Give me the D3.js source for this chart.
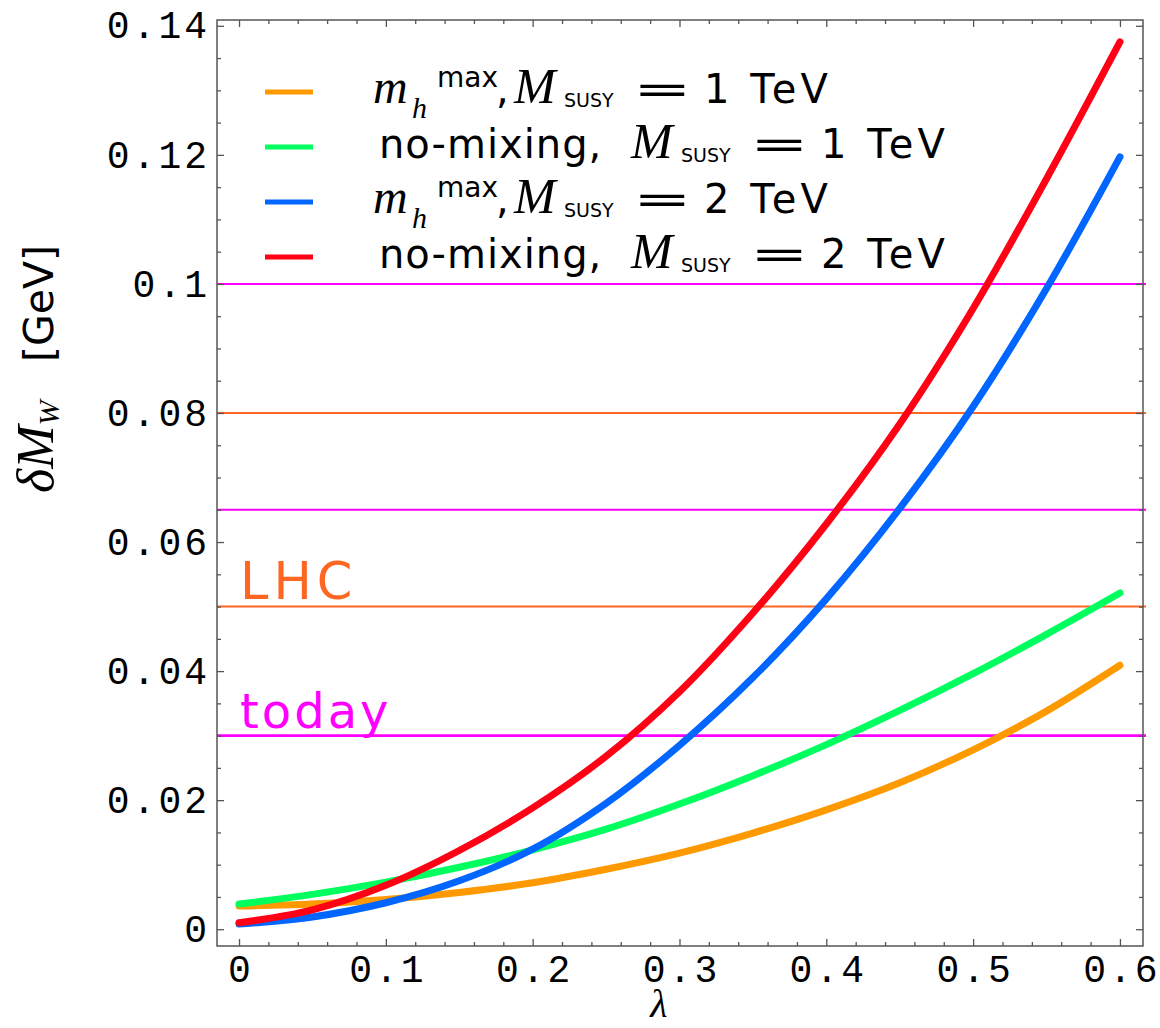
<!DOCTYPE html>
<html>
<head>
<meta charset="utf-8">
<script src="https://cdn.jsdelivr.net/npm/d3@7"></script>
<style>
  body { margin: 0; background: #fff; }
</style>
</head>
<body>
<svg id="chart" width="1160" height="1028"></svg>
<script>
var lambda = [0, 0.05, 0.1, 0.15, 0.2, 0.25, 0.3, 0.35, 0.4, 0.45, 0.5, 0.55, 0.6];

// delta M_W [GeV] for the four scenarios
var mhmax1 = [0.0036, 0.0039, 0.0046, 0.0057, 0.0072, 0.0093, 0.0118, 0.0149, 0.0185, 0.0227, 0.0278, 0.0338, 0.0409];
var nomix1 = [0.0039, 0.0054, 0.0073, 0.0096, 0.0123, 0.0155, 0.0194, 0.0238, 0.0286, 0.0339, 0.0396, 0.0457, 0.0521];
var mhmax2 = [0.0008, 0.0019, 0.0041, 0.0075, 0.0124, 0.0195, 0.0285, 0.0390, 0.0512, 0.0652, 0.0810, 0.0993, 0.1197];
var nomix2 = [0.0010, 0.0030, 0.0068, 0.0122, 0.0188, 0.0268, 0.0368, 0.0490, 0.0628, 0.0783, 0.0962, 0.1163, 0.1375];

// legend: scenario and SUSY mass
var scenarios = ["mhmax", "nomix", "mhmax", "nomix"];
var susyMass = ["1", "1", "2", "2"];

// experimental precision levels
var refLevels = [0.1, 0.08, 0.065, 0.05, 0.03];
var refLabels = ["", "", "", "LHC", "today"];

// tick labels
var xTicks = [0, 0.1, 0.2, 0.3, 0.4, 0.5, 0.6];
var yTicks = [0, 0.02, 0.04, 0.06, 0.08, 0.1, 0.12, 0.14];

var series = [mhmax1, nomix1, mhmax2, nomix2];
var colors = ["#ff9900", "#00ff5f", "#0066ff", "#ff0014"];
var refColors = ["#ff00ff", "#ff6622", "#ff00ff", "#ff6622", "#ff00ff"];

var svg = d3.select("#chart"),
    frame = {left: 217, right: 1143, top: 20, bottom: 946};

var x = d3.scaleLinear().domain([-0.015, 0.6157]).range([frame.left, frame.right]);
var y = d3.scaleLinear().domain([-0.0026, 0.1409]).range([frame.bottom, frame.top]);

var fmt = function(d) { return String(+d.toFixed(3)); };
var xMinor = d3.range(0, 0.6001, 0.02).filter(function(d) { return Math.abs(d * 10 - Math.round(d * 10)) > 1e-6; });
var yMinor = d3.range(0, 0.1401, 0.005).filter(function(d) { return Math.abs(d * 50 - Math.round(d * 50)) > 1e-6; });

var mono = "'Liberation Mono', 'DejaVu Sans Mono', monospace",
    sans = "'DejaVu Sans', sans-serif",
    serif = "'Liberation Serif', 'DejaVu Serif', serif";

// reference lines (drawn first, under the curves)
svg.append("g").selectAll("line")
  .data(refLevels)
  .enter().append("line")
    .attr("x1", frame.left)
    .attr("x2", frame.right + 3)
    .attr("y1", function(d) { return y(d); })
    .attr("y2", function(d) { return y(d); })
    .attr("stroke", function(d, i) { return refColors[i]; })
    .attr("stroke-width", function(d) { return d === 0.03 ? 2.6 : 2; });

svg.append("g").selectAll("text")
  .data(refLevels)
  .enter().append("text")
    .filter(function(d, i) { return refLabels[i] !== ""; })
    .attr("x", frame.left + 23)
    .attr("y", function(d) { return y(d) - 8; })
    .attr("fill", function(d) { return refColors[refLevels.indexOf(d)]; })
    .attr("font-family", sans)
    .attr("font-size", function(d) { return d === 0.05 ? 51 : 48; })
    .attr("letter-spacing", function(d) { return d === 0.05 ? 5 : 3; })
    .text(function(d) { return refLabels[refLevels.indexOf(d)]; });

// curves
var line = d3.line()
  .x(function(d, i) { return x(lambda[i]); })
  .y(function(d) { return y(d); })
  .curve(d3.curveCatmullRom.alpha(0.5));

svg.append("g").selectAll("path")
  .data(series)
  .enter().append("path")
    .attr("d", line)
    .attr("fill", "none")
    .attr("stroke", function(d, i) { return colors[i]; })
    .attr("stroke-width", 7)
    .attr("stroke-linecap", "round")
    .attr("stroke-linejoin", "round");

// axes with inward ticks on all four sides
function styleAxis(g) {
  g.select(".domain").remove();
  g.selectAll(".tick line").attr("stroke", "#555").attr("stroke-width", 1.3);
  g.selectAll("text").attr("fill", "#000").attr("font-family", mono)
    .attr("font-size", 38).attr("letter-spacing", 3);
}

svg.append("g").attr("transform", "translate(0," + frame.bottom + ")")
  .call(d3.axisBottom(x).tickValues(xTicks).tickFormat(fmt).tickSize(-7).tickPadding(9))
  .call(styleAxis)
  .selectAll("text").attr("dx", 1.5);
svg.append("g").attr("transform", "translate(0," + frame.bottom + ")")
  .call(d3.axisBottom(x).tickValues(xMinor).tickFormat("").tickSize(-4))
  .call(styleAxis);
svg.append("g").attr("transform", "translate(0," + frame.top + ")")
  .call(d3.axisTop(x).tickValues(xTicks).tickFormat("").tickSize(-7))
  .call(styleAxis);
svg.append("g").attr("transform", "translate(0," + frame.top + ")")
  .call(d3.axisTop(x).tickValues(xMinor).tickFormat("").tickSize(-4))
  .call(styleAxis);

svg.append("g").attr("transform", "translate(" + frame.left + ",0)")
  .call(d3.axisLeft(y).tickValues(yTicks).tickFormat(fmt).tickSize(-7).tickPadding(7))
  .call(styleAxis);
svg.append("g").attr("transform", "translate(" + frame.left + ",0)")
  .call(d3.axisLeft(y).tickValues(yMinor).tickFormat("").tickSize(-4))
  .call(styleAxis);
svg.append("g").attr("transform", "translate(" + frame.right + ",0)")
  .call(d3.axisRight(y).tickValues(yTicks).tickFormat("").tickSize(-7))
  .call(styleAxis);
svg.append("g").attr("transform", "translate(" + frame.right + ",0)")
  .call(d3.axisRight(y).tickValues(yMinor).tickFormat("").tickSize(-4))
  .call(styleAxis);

svg.append("rect")
  .attr("x", frame.left).attr("y", frame.top)
  .attr("width", frame.right - frame.left).attr("height", frame.bottom - frame.top)
  .attr("fill", "none").attr("stroke", "#555").attr("stroke-width", 1.5);

// axis titles
svg.append("text")
  .attr("x", 659).attr("y", 1017)
  .attr("text-anchor", "middle")
  .attr("font-family", serif).attr("font-style", "italic").attr("font-size", 40)
  .text("λ");

var yt = svg.append("text")
  .attr("transform", "translate(53,493) rotate(-90)")
  .attr("font-size", 52);
yt.append("tspan").attr("font-family", serif).attr("font-style", "italic").text("δM");
yt.append("tspan").attr("font-family", serif).attr("font-style", "italic").attr("font-size", 30).attr("dy", 6).text("W");
yt.append("tspan").attr("font-family", sans).attr("font-size", 41).attr("x", 131).attr("dy", -6).text("[GeV]");

// legend
var rowY = [103, 158, 213, 268];
var legend = svg.append("g").selectAll("g")
  .data(scenarios)
  .enter().append("g")
    .attr("transform", function(d, i) { return "translate(0," + rowY[i] + ")"; });

legend.append("line")
  .attr("x1", 265).attr("x2", 313)
  .attr("y1", -11).attr("y2", -11)
  .attr("stroke", function(d, i) { return colors[i]; })
  .attr("stroke-width", 5);

legend.each(function(d, i) {
  var row = d3.select(this);
  var mx = d === "mhmax" ? 514 : 631;      // start of M_SUSY
  var t = row.append("text").attr("font-family", sans).attr("font-size", 40);
  if (d === "mhmax") {
    t.append("tspan").attr("x", 373).attr("font-family", serif).attr("font-style", "italic").attr("font-size", 48).text("m");
    t.append("tspan").attr("x", 412).attr("dy", 15).attr("font-family", serif).attr("font-style", "italic").attr("font-size", 30).text("h");
    t.append("tspan").attr("x", 437).attr("dy", -31).attr("font-size", 28).text("max");
    t.append("tspan").attr("x", 496).attr("dy", 16).text(",");
  } else {
    t.append("tspan").attr("x", 379).attr("letter-spacing", 1).text("no-mixing,");
  }
  t.append("tspan").attr("x", mx).attr("font-family", serif).attr("font-style", "italic").attr("font-size", 50).text("M");
  t.append("tspan").attr("x", mx + 50).attr("dy", 4).attr("font-size", 19).text("SUSY");
  t.append("tspan").attr("x", mx + 190).attr("dy", -4).attr("letter-spacing", 4).text(susyMass[i] + " TeV");
  // long equals sign, stretched horizontally
  row.append("text")
    .attr("transform", "translate(" + (mx + 119) + ",0) scale(1.75,1)")
    .attr("font-family", sans).attr("font-size", 40)
    .text("=");
});
</script>
</body>
</html>
